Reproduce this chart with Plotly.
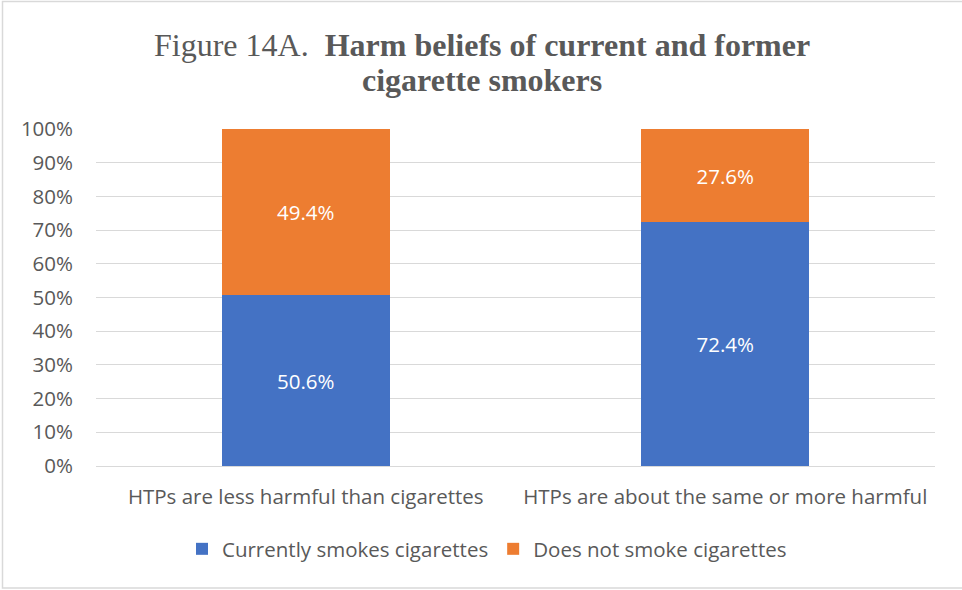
import plotly.graph_objects as go

categories = ["HTPs are less harmful than cigarettes", "HTPs are about the same or more harmful"]
current_smokers = [50.6, 72.4]
non_smokers = [49.4, 27.6]
series_names = ["Currently smokes cigarettes", "Does not smoke cigarettes"]
y_ticks = [0, 10, 20, 30, 40, 50, 60, 70, 80, 90, 100]

BLUE = "#4472C4"
ORANGE = "#ED7D31"
GREY_TEXT = "#595959"
AXIS_FONT = "Open Sans"
FS = 20.5

# plot area in pixels
L, R, T, B = 96, 935, 129, 466
PW, PH = R - L, B - T

fig = go.Figure()
for name, vals, col in [(series_names[0], current_smokers, BLUE), (series_names[1], non_smokers, ORANGE)]:
    fig.add_trace(go.Bar(
        x=categories, y=vals, name=name, marker=dict(color=col, line=dict(width=0)),
        text=[f"{v:.1f}%" for v in vals], textposition="inside", insidetextanchor="middle",
        textfont=dict(color="white", size=FS, family=AXIS_FONT),
        hoverinfo="skip",
    ))

fig.update_layout(
    barmode="stack", bargap=0.6,
    width=962, height=590,
    margin=dict(l=L, r=962 - R, t=T, b=590 - B),
    paper_bgcolor="white", plot_bgcolor="white",
    legend=dict(orientation="h", x=(487 - L) / PW, xanchor="center", y=-(549 - B) / PH, yanchor="middle",
                font=dict(family=AXIS_FONT, size=FS, color=GREY_TEXT),
                traceorder="normal", itemwidth=30),
    showlegend=True,
)

# two-line title
title_font = dict(family="Liberation Serif", size=32, color=GREY_TEXT)
fig.add_annotation(text="Figure 14A.  <b>Harm beliefs of current and former</b>",
                   xref="paper", yref="paper", x=(482 - L) / PW, y=(B - 45) / PH,
                   xanchor="center", yanchor="middle", showarrow=False, font=title_font)
fig.add_annotation(text="<b>cigarette smokers</b>",
                   xref="paper", yref="paper", x=(482 - L) / PW, y=(B - 80) / PH,
                   xanchor="center", yanchor="middle", showarrow=False, font=title_font)

fig.update_yaxes(range=[0, 100], tickvals=y_ticks, ticktext=[f"{t}%" for t in y_ticks],
                 showgrid=True, gridcolor="#D9D9D9", gridwidth=1, zeroline=False,
                 showline=False, ticks="", ticklabelstandoff=22,
                 tickfont=dict(family=AXIS_FONT, size=FS, color=GREY_TEXT))
fig.update_xaxes(showline=True, linecolor="#D9D9D9", linewidth=1, ticks="",
                 ticklabelstandoff=12,
                 tickfont=dict(family=AXIS_FONT, size=FS, color=GREY_TEXT))

# outer chart border (runs past the right edge)
fig.add_shape(type="rect", xref="paper", yref="paper",
              x0=(2.5 - L) / PW, x1=(966 - L) / PW, y0=-(588 - B) / PH, y1=(B - 1.5) / PH,
              line=dict(color="#D9D9D9", width=1.5), fillcolor="rgba(0,0,0,0)", layer="below")

fig.write_html("out.html")
